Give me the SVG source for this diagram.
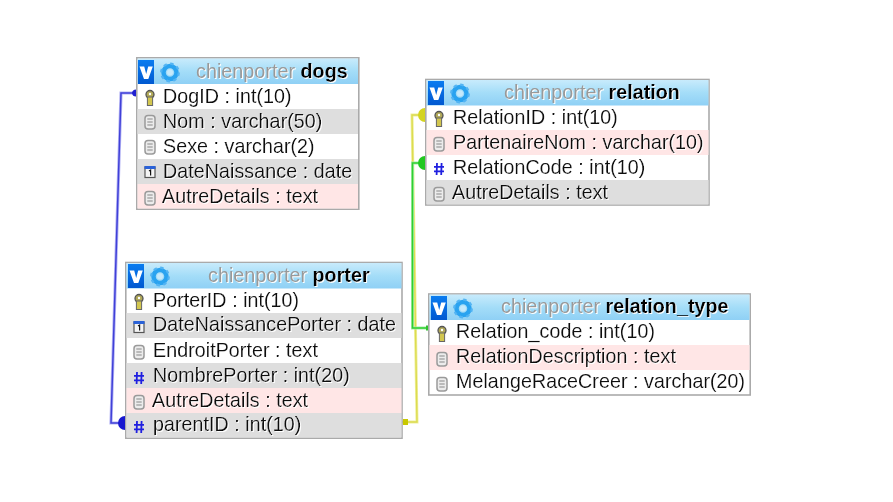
<svg xmlns="http://www.w3.org/2000/svg" width="893" height="502" viewBox="0 0 893 502">
<style>
text{font-family:"Liberation Sans",Arial,sans-serif;font-size:19.8px;fill:#111}
.t{filter:url(#halo)}
.g{fill:#999}
.b{font-weight:bold;fill:#000}
.box{fill:#fff;stroke:#aaa;stroke-width:1.6}
.pink{fill:#ffe6e6}
.grey{fill:#dedede}
.hash{stroke:#2020e0;stroke-width:1.8;fill:none}
.soft{filter:url(#soft)}
</style>
<defs>
<filter id="halo" x="-5%" y="-20%" width="110%" height="140%"><feDropShadow dx="1" dy="1" stdDeviation="0.6" flood-color="#fff"/></filter>
<filter id="soft" x="-30%" y="-30%" width="160%" height="160%"><feGaussianBlur stdDeviation="0.4"/></filter>
<linearGradient id="hd" x1="0" y1="0" x2="0" y2="1"><stop offset="0" stop-color="#c8ebfc"/><stop offset="0.5" stop-color="#a4ddf8"/><stop offset="1" stop-color="#8fd0f5"/></linearGradient>
<linearGradient id="vb" x1="0" y1="0" x2="0" y2="1"><stop offset="0" stop-color="#0a7cf0"/><stop offset="1" stop-color="#0058d0"/></linearGradient>
<g id="head"><rect x="0" y="0" width="16" height="24" fill="url(#vb)"/><path d="M1.500 6.500H6.200L8.200 14L10.200 6.500H14.800L10.300 19H6Z" fill="#fff" class="soft"/><g transform="translate(32,12.500)" class="soft"><circle r="6.500" fill="none" stroke="#2ba3f0" stroke-width="4.500"/><circle r="8.800" fill="none" stroke="#52b4f3" stroke-width="2.200" stroke-dasharray="3.400 3.500"/><circle r="3" fill="#c6e9fb"/></g></g>
<g id="key" class="soft"><circle cx="0" cy="-3.500" r="4" fill="#b0a858" stroke="#555" stroke-width="1.300"/><rect x="-2.600" y="-1" width="5.200" height="8.500" fill="#d2c650" stroke="#666" stroke-width="1"/><circle cx="0" cy="-4" r="1.200" fill="#fff"/></g>
<g id="doc" class="soft"><rect x="-5" y="-6.500" width="10" height="13.500" rx="3" fill="#ececec" stroke="#9a9a9a" stroke-width="1.500"/><path d="M-2.700 -3H2.700M-2.700 0H2.700M-2.700 3H2.700" stroke="#888" stroke-width="1"/></g>
<g id="num"><path class="hash" d="M-2 -6L-2.400 6M2.600 -6L2.200 6M-5 -2.200H5M-5 2.400H5"/></g>
<g id="cal"><rect x="-5" y="-5" width="10" height="10.500" fill="#f4f4f4" stroke="#555" stroke-width="1.200"/><rect x="-5.500" y="-6" width="11" height="3" fill="#2a62d8"/><path d="M-1 -1L0.600 -2V3.500" stroke="#111" stroke-width="1.200" fill="none"/></g>
</defs>
<rect width="893" height="502" fill="#fff"/>

<g id="connectors" fill="none">
<path d="M136 93H121L111 423H125" stroke="#b4b4f4" stroke-width="3.200"/>
<path d="M136 93H121L111 423H125" stroke="#4040d8" stroke-width="1.500"/>
<path d="M425 115H412L417 422H402" stroke="#efef9c" stroke-width="3"/>
<path d="M425 115H412L417 422H402" stroke="#dcdc50" stroke-width="1.400"/>
<path d="M425 163H412.500V328H428" stroke="#a8eca8" stroke-width="3"/>
<path d="M425 163H412.500V328H428" stroke="#30d030" stroke-width="1.500"/>
<path d="M132 93a4 4 0 0 1 4 -3.500v7a4 4 0 0 1 -4 -3.500Z" fill="#2020d0" stroke="none"/>
<path d="M125 416v14a7 7 0 0 1 0 -14Z" fill="#1818d0" stroke="none"/>
<path d="M425 108v14a7 7 0 0 1 0 -14Z" fill="#d4d420" stroke="none"/>
<path d="M425 156v14a7 7 0 0 1 0 -14Z" fill="#20c820" stroke="none"/>
<rect x="403" y="419" width="5" height="6" fill="#c8c800"/>
<rect x="426" y="325.500" width="2" height="5" fill="#30c030"/>
</g>

<g id="table-dogs">
<rect class="box" x="136.800" y="57.800" width="222" height="151.400"/>
<rect x="137.500" y="58.500" width="220.500" height="25.500" fill="url(#hd)"/>
<use href="#head" x="138" y="60"/>
<rect class="grey" x="137.500" y="109" width="220.500" height="25"/>
<rect class="grey" x="137.500" y="159" width="220.500" height="25"/>
<rect class="pink" x="137.500" y="184" width="220.500" height="24.500"/>
<text class="t" x="196" y="78"><tspan class="g">chienporter </tspan><tspan class="b">dogs</tspan></text>
<use href="#key" x="150" y="98"/><text class="t" x="163" y="103">DogID : int(10)</text>
<use href="#doc" x="150" y="122"/><text class="t" x="163" y="128">Nom : varchar(50)</text>
<use href="#doc" x="150" y="147"/><text class="t" x="163" y="153">Sexe : varchar(2)</text>
<use href="#cal" x="150" y="172"/><text class="t" x="163" y="178">DateNaissance : date</text>
<use href="#doc" x="150" y="198"/><text class="t" x="162" y="203">AutreDetails : text</text>
</g>

<g id="table-relation">
<rect class="box" x="425.800" y="79.500" width="283.200" height="125.500"/>
<rect x="426.500" y="80" width="282" height="25.500" fill="url(#hd)"/>
<use href="#head" x="428" y="81"/>
<rect class="pink" x="426.500" y="130" width="282" height="25"/>
<rect class="grey" x="426.500" y="180" width="282" height="24.500"/>
<text class="t" x="504" y="99"><tspan class="g">chienporter </tspan><tspan class="b">relation</tspan></text>
<use href="#key" x="439" y="119"/><text class="t" x="453" y="124">RelationID : int(10)</text>
<use href="#doc" x="439" y="144"/><text class="t" x="453" y="149">PartenaireNom : varchar(10)</text>
<use href="#num" x="439" y="169"/><text class="t" x="453" y="174">RelationCode : int(10)</text>
<use href="#doc" x="439" y="194"/><text class="t" x="452" y="199">AutreDetails : text</text>
</g>

<g id="table-porter">
<rect class="box" x="125.800" y="262.500" width="276.200" height="175.700"/>
<rect x="126.500" y="263" width="275" height="25.500" fill="url(#hd)"/>
<use href="#head" x="128" y="264"/>
<rect class="grey" x="126.500" y="313" width="275" height="25"/>
<rect class="grey" x="126.500" y="363" width="275" height="25"/>
<rect class="pink" x="126.500" y="388" width="275" height="25"/>
<rect class="grey" x="126.500" y="413" width="275" height="24.500"/>
<text class="t" x="208" y="282"><tspan class="g">chienporter </tspan><tspan class="b">porter</tspan></text>
<use href="#key" x="139" y="302"/><text class="t" x="153" y="307">PorterID : int(10)</text>
<use href="#cal" x="139" y="327"/><text class="t" x="153" y="331">DateNaissancePorter : date</text>
<use href="#doc" x="139" y="352"/><text class="t" x="153" y="357">EndroitPorter : text</text>
<use href="#num" x="139" y="378"/><text class="t" x="153" y="382">NombrePorter : int(20)</text>
<use href="#doc" x="139" y="402"/><text class="t" x="152" y="407">AutreDetails : text</text>
<use href="#num" x="139" y="427"/><text class="t" x="153" y="431">parentID : int(10)</text>
</g>

<g id="table-relation_type">
<rect class="box" x="428.800" y="294" width="321.400" height="101"/>
<rect x="429.500" y="294.500" width="320" height="25.500" fill="url(#hd)"/>
<use href="#head" x="431" y="296"/>
<rect class="pink" x="429.500" y="345" width="320" height="25"/>
<text class="t" x="501" y="313"><tspan class="g">chienporter </tspan><tspan class="b">relation_type</tspan></text>
<use href="#key" x="442" y="334"/><text class="t" x="456" y="338">Relation_code : int(10)</text>
<use href="#doc" x="442" y="359"/><text class="t" x="456" y="363">RelationDescription : text</text>
<use href="#doc" x="442" y="384"/><text class="t" x="456" y="388">MelangeRaceCreer : varchar(20)</text>
</g>
</svg>
